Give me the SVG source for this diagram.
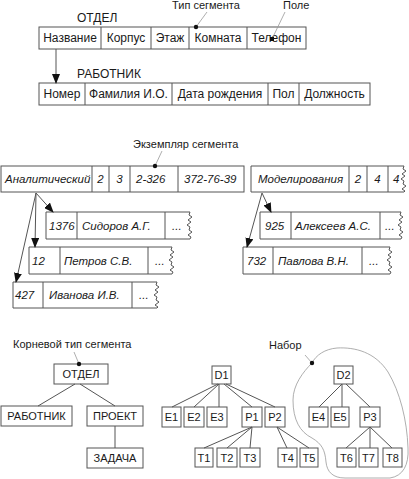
<svg xmlns="http://www.w3.org/2000/svg" width="409" height="479" viewBox="0 0 409 479">
<style>
.b{fill:#fff;stroke:#555;stroke-width:1}
.n{fill:none;stroke:#555;stroke-width:1}
.g{fill:none;stroke:#999;stroke-width:0.8}
text{font-family:"Liberation Sans",Arial,sans-serif;fill:#1a1a1a}
.t{font-size:12px}
.s{font-size:11px}
.i{font-style:italic;font-size:11.5px}
.m{text-anchor:middle}
</style>
<defs>
<marker id="ah" markerWidth="10" markerHeight="8" refX="9" refY="4" orient="auto" markerUnits="userSpaceOnUse"><path d="M0,0 L10,4 L0,8 Z" fill="#111"/></marker>
</defs>

<!-- Top: segment types -->
<g id="otdel-type">
<text class="t" x="77" y="22">ОТДЕЛ</text>
<rect class="b" x="39" y="27" width="267" height="22"/>
<path class="n" d="M101,27V49M151,27V49M189,27V49M247,27V49"/>
<text class="t m" x="70" y="42">Название</text>
<text class="t m" x="126" y="42">Корпус</text>
<text class="t m" x="170" y="42">Этаж</text>
<text class="t m" x="218" y="42">Комната</text>
<text class="t m" x="276.5" y="42">Телефон</text>
</g>
<g id="rabotnik-type">
<text class="t" x="77" y="78">РАБОТНИК</text>
<rect class="b" x="39" y="83" width="331" height="22"/>
<path class="n" d="M85,83V105M172,83V105M268,83V105M299,83V105"/>
<text class="t m" x="62" y="98">Номер</text>
<text class="t m" x="128.5" y="98">Фамилия И.О.</text>
<text class="t m" x="220" y="98">Дата рождения</text>
<text class="t m" x="283.5" y="98">Пол</text>
<text class="t m" x="334.5" y="98">Должность</text>
</g>
<g id="label-type">
<text class="s" x="172" y="9">Тип сегмента</text>
<path class="g" d="M196,27L207,12"/>
<circle cx="196" cy="27" r="2.2" fill="#111"/>
</g>
<g id="label-field">
<text class="s" x="283" y="9">Поле</text>
<path class="g" d="M272,39L285,12"/>
<rect x="270" y="37" width="4" height="4" fill="#111"/>
</g>

<!-- Middle: instances -->
<g id="inst-analit">
<rect class="b" x="1" y="166" width="243" height="26"/>
<path class="n" d="M92,166V192M109,166V192M130,166V192M178,166V192"/>
<text class="i" x="5" y="183">Аналитический</text>
<text class="i m" x="100.5" y="183">2</text>
<text class="i m" x="119.5" y="183">3</text>
<text class="i" x="136" y="183">2-326</text>
<text class="i" x="184" y="183">372-76-39</text>
</g>
<g id="inst-model">
<path class="b" d="M251,166H404l-1,3 3,2 -4,3 3,2 -4,3 3,2 -1,3 3,2 -4,3 3,2 -1,1H251Z"/>
<path class="n" d="M349,166V192M367,166V192M388,166V192"/>
<text class="i" x="258" y="183">Моделирования</text>
<text class="i m" x="358" y="183">2</text>
<text class="i m" x="377.5" y="183">4</text>
<text class="i" x="393" y="183">4</text>
</g>
<g id="inst-sidorov">
<path class="b" d="M46,212H190l-1,3 3,2 -4,3 3,2 -4,3 3,2 -1,3 3,2 -4,3 3,2 -1,2H46Z"/>
<path class="n" d="M77,212V239M165,212V239"/>
<text class="i" x="49" y="230">1376</text>
<text class="i" x="82" y="230">Сидоров А.Г.</text>
<text class="i" x="172" y="230">...</text>
</g>
<g id="inst-petrov">
<path class="b" d="M29,247H172l-1,3 3,2 -4,3 3,2 -4,3 3,2 -1,3 3,2 -4,3 3,2 -1,2H29Z"/>
<path class="n" d="M60,247V274M148,247V274"/>
<text class="i" x="32" y="265">12</text>
<text class="i" x="64" y="265">Петров С.В.</text>
<text class="i" x="155" y="265">...</text>
</g>
<g id="inst-ivanova">
<path class="b" d="M13,282H157l-1,3 3,2 -4,3 3,2 -4,3 3,2 -1,3 3,2 -4,3 3,2 -1,1H13Z"/>
<path class="n" d="M43,282V308M132,282V308"/>
<text class="i" x="15" y="299">427</text>
<text class="i" x="49" y="299">Иванова И.В.</text>
<text class="i" x="139" y="299">...</text>
</g>
<g id="inst-alekseev">
<path class="b" d="M260,212H401l-1,3 3,2 -4,3 3,2 -4,3 3,2 -1,3 3,2 -4,3 3,2 -1,2H260Z"/>
<path class="n" d="M291,212V239M380,212V239"/>
<text class="i" x="265" y="230">925</text>
<text class="i" x="295" y="230">Алексеев А.С.</text>
<text class="i" x="385" y="230">...</text>
</g>
<g id="inst-pavlova">
<path class="b" d="M243,247H390l-1,3 3,2 -4,3 3,2 -4,3 3,2 -1,3 3,2 -4,3 3,2 -1,2H243Z"/>
<path class="n" d="M273,247V274M362,247V274"/>
<text class="i" x="247" y="265">732</text>
<text class="i" x="278" y="265">Павлова В.Н.</text>
<text class="i" x="369" y="265">...</text>
</g>
<g id="label-instance">
<text class="s" x="133" y="148">Экземпляр сегмента</text>
<path class="g" d="M155,166L162,151"/>
<circle cx="155" cy="166" r="2.2" fill="#111"/>
</g>

<!-- Bottom: trees -->
<g id="tree-otdel"><rect class="b" x="54" y="364" width="54" height="20"/><text class="s m" x="81" y="378">ОТДЕЛ</text></g>
<g id="tree-rabotnik"><rect class="b" x="1" y="406" width="71" height="20"/><text class="s m" x="36.5" y="420">РАБОТНИК</text></g>
<g id="tree-proekt"><rect class="b" x="87" y="406" width="56" height="20"/><text class="s m" x="115" y="420">ПРОЕКТ</text></g>
<g id="tree-zadacha"><rect class="b" x="87" y="448" width="56" height="20"/><text class="s m" x="115" y="462">ЗАДАЧА</text></g>
<g id="label-root">
<text class="s" x="13" y="348">Корневой тип сегмента</text>
<path class="g" d="M79,364L74,352"/>
<circle cx="79" cy="364" r="2.2" fill="#111"/>
</g>

<g id="D1"><rect class="b" x="212" y="366" width="19" height="18"/><text class="s m" x="221.5" y="379">D1</text></g>
<g id="E1"><rect class="b" x="162" y="407" width="19" height="20"/><text class="s m" x="171.5" y="421">E1</text></g>
<g id="E2"><rect class="b" x="184" y="407" width="20" height="20"/><text class="s m" x="194" y="421">E2</text></g>
<g id="E3"><rect class="b" x="207" y="407" width="20" height="20"/><text class="s m" x="217" y="421">E3</text></g>
<g id="P1"><rect class="b" x="242" y="407" width="20" height="20"/><text class="s m" x="252" y="421">P1</text></g>
<g id="P2"><rect class="b" x="265" y="407" width="20" height="20"/><text class="s m" x="275" y="421">P2</text></g>
<g id="T1"><rect class="b" x="195" y="448" width="18" height="19"/><text class="s m" x="204" y="462">T1</text></g>
<g id="T2"><rect class="b" x="217" y="448" width="20" height="19"/><text class="s m" x="227" y="462">T2</text></g>
<g id="T3"><rect class="b" x="240" y="448" width="20" height="19"/><text class="s m" x="250" y="462">T3</text></g>
<g id="T4"><rect class="b" x="278" y="448" width="19" height="19"/><text class="s m" x="287.5" y="462">T4</text></g>
<g id="T5"><rect class="b" x="300" y="448" width="18" height="19"/><text class="s m" x="309" y="462">T5</text></g>

<g id="D2"><rect class="b" x="334" y="366" width="19" height="18"/><text class="s m" x="343.5" y="379">D2</text></g>
<g id="E4"><rect class="b" x="309" y="407" width="19" height="20"/><text class="s m" x="318.5" y="421">E4</text></g>
<g id="E5"><rect class="b" x="331" y="407" width="18" height="20"/><text class="s m" x="340" y="421">E5</text></g>
<g id="P3"><rect class="b" x="360" y="407" width="20" height="20"/><text class="s m" x="370" y="421">P3</text></g>
<g id="T6"><rect class="b" x="337" y="448" width="19" height="19"/><text class="s m" x="346.5" y="462">T6</text></g>
<g id="T7"><rect class="b" x="359" y="448" width="19" height="19"/><text class="s m" x="368.5" y="462">T7</text></g>
<g id="T8"><rect class="b" x="383" y="448" width="19" height="19"/><text class="s m" x="392.5" y="462">T8</text></g>

<g id="label-set">
<text class="s" x="269" y="349">Набор</text>
<path class="g" d="M312,363C316,355 325,349 337,348C355,347 375,352 388,372C400,392 407,420 408,448C409,465 403,476 390,478L345,478C333,478 327,472 326,462C325,450 322,444 312,438C300,432 293,420 293,400C293,385 303,372 312,363Z"/>
<path class="g" d="M305,355L312,363"/>
<circle cx="312" cy="363" r="2.2" fill="#111"/>
</g>

<g id="connectors">
<path class="n" d="M56,49V83" marker-end="url(#ah)"/>
<path class="n" d="M36,193L53,212" marker-end="url(#ah)"/>
<path class="n" d="M36,193L35,247" marker-end="url(#ah)"/>
<path class="n" d="M36,193L16,282" marker-end="url(#ah)"/>
<path class="n" d="M262,193L271,212" marker-end="url(#ah)"/>
<path class="n" d="M262,193L247,247" marker-end="url(#ah)"/>
<path class="n" d="M75,384L38,406M80,384L115,406M115,426V448"/>
<path class="n" d="M218,384L172,407M219,384L194,407M219,384V407M224,384L252,407M226,384L275,407"/>
<path class="n" d="M252,427L204,448M252,427L227,448M252,427L250,448M277,427L287,448M277,427L309,448"/>
<path class="n" d="M342,384L319,407M342,384V407M346,384L370,407"/>
<path class="n" d="M370,427L346,448M370,427V448M370,427L392,448"/>
</g>
</svg>
